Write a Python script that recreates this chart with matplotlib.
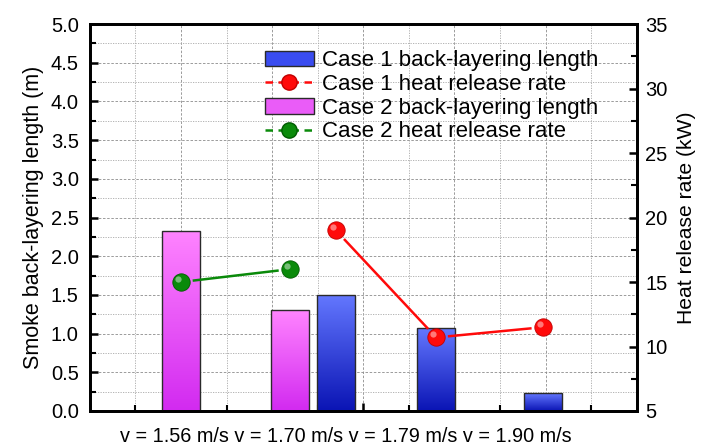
import numpy as np
import matplotlib.pyplot as plt
from matplotlib.lines import Line2D
from matplotlib.patches import Patch
from matplotlib import transforms as mtransforms
from matplotlib.colors import LinearSegmentedColormap

plt.rcParams['font.family'] = ['Liberation Sans', 'DejaVu Sans']

speed_labels = ['v = 1.56 m/s', 'v = 1.70 m/s', 'v = 1.79 m/s', 'v = 1.90 m/s']

# case 1: three velocities, case 2: two velocities
case1_pos = [5.4, 7.6, 9.95]
case1_length = [1.5, 1.07, 0.23]
case1_hrr = [19.0, 10.7, 11.5]

case2_pos = [2.0, 4.4]
case2_length = [2.33, 1.30]
case2_hrr = [15.0, 16.0]

bar_width = 0.83

blue_cmap = LinearSegmentedColormap.from_list('blue', ['#0a14b4', '#6478ff'])
magenta_cmap = LinearSegmentedColormap.from_list('magenta', ['#d22af0', '#ff84ff'])


def gradient_bars(ax, x, h, cmap):
    bars = ax.bar(x, h, width=bar_width, facecolor='none', edgecolor='#2a2a2a',
                  linewidth=1.0, zorder=3)
    grad = np.linspace(0, 1, 256).reshape(-1, 1)
    for b in bars:
        x0, y0 = b.get_x(), b.get_y()
        im = ax.imshow(grad, cmap=cmap, origin='lower', aspect='auto',
                       extent=(x0, x0 + b.get_width(), y0, y0 + b.get_height()),
                       zorder=2.5)
        im.set_clip_path(b)
    return bars


def ball_line(ax, x, y, color, edge, gap=13):
    # line segments stop short of the balls, origin style
    pts = ax.transData.transform(np.column_stack([x, y]))
    inv = ax.transData.inverted()
    for p, q in zip(pts[:-1], pts[1:]):
        d = (q - p) / np.hypot(*(q - p))
        seg = inv.transform(np.array([p + d * gap, q - d * gap]))
        ax.plot(seg[:, 0], seg[:, 1], '-', color=color, lw=1.8, zorder=4)
    ax.plot(x, y, 'o', color=color, ms=12.5, mec=edge, mew=0.6, zorder=5)
    shift = mtransforms.ScaledTranslation(-2.2 / 72, 2.2 / 72, ax.figure.dpi_scale_trans)
    ax.plot(x, y, 'o', color='white', alpha=0.45, ms=4.5, mew=0,
            transform=ax.transData + shift, zorder=6)


fig = plt.figure(figsize=(7.02, 4.46), dpi=100)
ax = fig.add_axes([0.128, 0.0785, 0.779, 0.8675])

ax.set_xlim(0, 12)
ax.set_ylim(0, 5)
ax.set_xticks(np.arange(2, 12, 2))
ax.set_xticks(np.arange(1, 12, 2), minor=True)
ax.set_xticklabels([])
ax.set_yticks(np.arange(0, 5.01, 0.5))
ax.set_yticks(np.arange(0.25, 5, 0.5), minor=True)
ax.yaxis.set_major_formatter(plt.FormatStrFormatter('%.1f'))
ax.tick_params(direction='in', width=1.8, length=6, labelsize=14.5, top=False, right=False, pad=8)
ax.tick_params(which='minor', direction='in', width=1.5, length=4, top=False, right=False)
ax.grid(True, which='major', color='#8c8c8c', linestyle=(0, (3, 2)), linewidth=0.6)
ax.grid(True, which='minor', color='#a8a8a8', linestyle=(0, (1.5, 1.5)), linewidth=0.6)
ax.set_axisbelow(True)
for s in ax.spines.values():
    s.set_linewidth(2)
ax.set_ylabel('Smoke back-layering length (m)', fontsize=15.5, labelpad=5)

gradient_bars(ax, case1_pos, case1_length, blue_cmap)
gradient_bars(ax, case2_pos, case2_length, magenta_cmap)

ax2 = ax.twinx()
ax2.set_ylim(5, 35)
ax2.set_yticks(np.arange(5, 36, 5))
ax2.set_yticks(np.arange(7.5, 35, 5), minor=True)
ax2.tick_params(direction='in', width=1.8, length=6, labelsize=14.5, pad=6)
ax2.tick_params(which='minor', direction='in', width=1.5, length=4)
ax2.set_ylabel('Heat release rate (kW)', fontsize=15.2, labelpad=7)
for s in ax2.spines.values():
    s.set_linewidth(2)

ball_line(ax2, case1_pos, case1_hrr, '#ff0a0a', '#c00000')
ball_line(ax2, case2_pos, case2_hrr, '#0a8a0a', '#005a00')

handles = [
    Patch(facecolor='#3a4cf0', edgecolor='#2a2a2a', label='Case 1 back-layering length'),
    Line2D([], [], color='#ff0a0a', marker='o', ms=11, mec='#c00000', lw=1.8,
           linestyle=(0, (3, 2.2)), label='Case 1 heat release rate'),
    Patch(facecolor='#ea5cf8', edgecolor='#2a2a2a', label='Case 2 back-layering length'),
    Line2D([], [], color='#0a8a0a', marker='o', ms=11, mec='#005a00', lw=1.8,
           linestyle=(0, (3, 2.2)), label='Case 2 heat release rate'),
]
ax2.legend(handles=handles, loc='upper left', bbox_to_anchor=(0.32, 0.932), frameon=False,
           fontsize=16, handlelength=2.2, handletextpad=0.35, labelspacing=0.12,
           borderaxespad=0, borderpad=0)

fig.text(120 / 702, 1 - 437 / 446, ' '.join(speed_labels), fontsize=14.3,
         ha='left', va='center')

fig.savefig('out.png', dpi=100)
